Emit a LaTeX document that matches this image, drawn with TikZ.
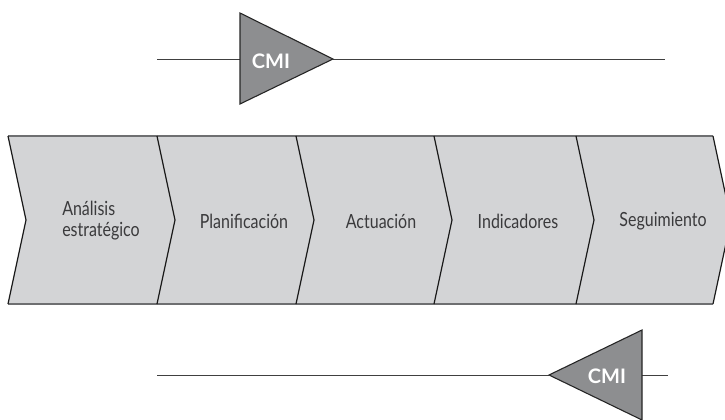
\documentclass[tikz,border=0pt]{standalone}
\usepackage{fontspec}
\setmainfont{Lato}[FakeStretch=0.82]
\newfontfamily\cmifont{Lato}
\begin{document}
\begin{tikzpicture}[x=1pt,y=-1pt,
  chevfill/.style={fill=chevgray,draw=none},
  edgeline/.style={draw=edgegray,line width=1.1pt},
  sideline/.style={draw=black!90,line width=1.2pt,line join=miter},
  flowline/.style={draw=black!75,line width=0.9pt},
  cmitri/.style={fill=trigray,draw=black!85,line width=1.1pt,line join=miter},
  steplabel/.style={font=\fontsize{19.5}{21}\selectfont,text=labelgray,align=left,inner sep=0pt},
  cmilabel/.style={font=\cmifont\bfseries\fontsize{20}{22}\selectfont,text=white,inner sep=0pt}]
\definecolor{chevgray}{HTML}{D3D4D6}
\definecolor{edgegray}{HTML}{6E6F71}
\definecolor{trigray}{HTML}{8D8E90}
\definecolor{labelgray}{HTML}{3A3A3C}
\useasboundingbox (0,0) rectangle (725,420);

% chevron band geometry
\def\top{136}\def\bot{304}\def\mid{220}\def\dep{18}
\foreach \xa/\xb in {8/157,157/296,296/434,434/576,576/713}{
  \path[chevfill] (\xa,\top) -- (\xb,\top) -- (\xb+\dep,\mid) -- (\xb,\bot)
     -- (\xa,\bot) -- (\xa+\dep,\mid) -- cycle;
}
\draw[edgeline] (8,\top) -- (713,\top);
\draw[edgeline] (8,\bot) -- (713,\bot);
\foreach \xa in {8,157,296,434,576,713}{
  \draw[sideline] (\xa,\top) -- (\xa+\dep,\mid) -- (\xa,\bot);
}

% step labels
\node[steplabel] (s1) at (101,221) {Análisis\\estratégico};
\node[steplabel] (s2) at (244,221) {Planificación};
\node[steplabel] (s3) at (381,221) {Actuación};
\node[steplabel] (s4) at (518,221) {Indicadores};
\node[steplabel] (s5) at (663,221) {Seguimiento};

% upper CMI marker
\coordinate (ua) at (157,59);
\coordinate (ub) at (665,59);
\coordinate (ut) at (240,13);
\coordinate (ubm) at (240,104);
\coordinate (uap) at (333,59);
\coordinate (uin) at (240,59);
\draw[flowline] (ua) -- (uin);
\draw[flowline] (uap) -- (ub);
\draw[cmitri] (ut) -- (uap) -- (ubm) -- cycle;
\node[cmilabel] (c1) at (271,61) {CMI};

% lower CMI marker
\coordinate (la) at (157,375);
\coordinate (lb) at (668,375);
\coordinate (lt) at (642,330);
\coordinate (lbm) at (642,420);
\coordinate (lap) at (549,375);
\coordinate (lin) at (642,375);
\draw[flowline] (la) -- (lap);
\draw[flowline] (lin) -- (lb);
\draw[cmitri] (lt) -- (lap) -- (lbm) -- cycle;
\node[cmilabel] (c2) at (607,376) {CMI};
\end{tikzpicture}
\end{document}
